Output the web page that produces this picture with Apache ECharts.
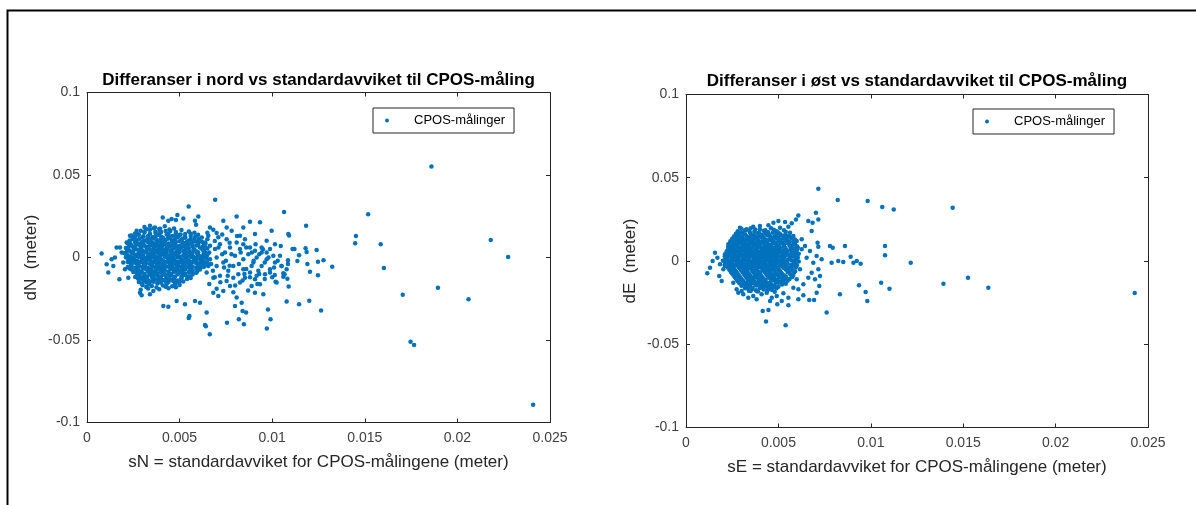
<!DOCTYPE html>
<html>
<head>
<meta charset="utf-8">
<title>CPOS-målinger</title>
<script src="https://cdn.jsdelivr.net/npm/echarts@6/dist/echarts.min.js"></script>
<style>
  html, body { margin: 0; padding: 0; background: #fff; }
  #chart { width: 1196px; height: 505px; }
</style>
</head>
<body>
<div id="chart"></div>
<script>
// Akser og tekster
const xTicks = [0, 0.005, 0.01, 0.015, 0.02, 0.025];
const yTicks = [-0.1, -0.05, 0, 0.05, 0.1];
const titles = [
  'Differanser i nord vs standardavviket til CPOS-måling',
  'Differanser i øst vs standardavviket til CPOS-måling'
];
const xNames = [
  'sN = standardavviket for CPOS-målingene (meter)',
  'sE = standardavviket for CPOS-målingene (meter)'
];
const yNames = ['dN  (meter)', 'dE  (meter)'];
const seriesName = 'CPOS-målinger';

// Nord: [sN, dN] i meter — spredte punkter
const nordOuter = [
  [.0186,.0552],[.01518,.0262],[.01452,.0131],[.01448,.0086],[.01586,.008],[.0218,.0106],
  [.02274,.0003],[.02409,-.0893],[.01603,-.0063],[.01705,-.0226],[.01747,-.0510],[.01766,-.0530],
  [.01895,-.0184],[.0206,-.0253],[.01324,-.0056],[.01064,.0276],[.01183,.0193],[.01091,.0133],
  [.01046,.007],[.0111,.0052],[.0112,.0052],[.0118,.0056],[.01186,.0033],[.0124,.0046],
  [.01145,.0013],[.01136,-.0021],[.01085,-.0017],[.01085,-.004],[.0119,-.004],[.01247,-.0026],
  [.01277,-.0017],[.0105,-.0052],[.0106,-.0096],[.01067,-.0102],[.01204,-.0086],[.01247,-.0108],
  [.01082,-.0129],[.01089,-.0175],[.01078,-.0266],[.01145,-.0283],[.012,-.0262],[.01264,-.0321],
  [.00549,-.0366],[.00642,-.0416],[.00756,-.0396],[.0082,-.0374],[.00847,-.0404],[.00859,-.0333],
  [.00971,-.0431],[.00977,-.0315],[.00991,-.0374],[.01014,-.0106],[.01018,-.0147],[.0106,-.0117],
  [.00663,-.0465],[.00692,.035],[.00549,.0309],
  [.00409,.0243],[.00439,.0223],[.00457,.0233],[.0048,.0227],[.00488,.0257],[.0052,.0237],
  [.00583,.0223],[.00601,.0249],[.00589,.0199],[.00736,.0223],[.00754,.0182],[.00808,.0249],
  [.00844,.0182],[.0088,.0217],[.00934,.0213],[.00907,.0142],[.00997,.0162],[.01087,.0142],
  [.0034,.0192],[.00367,.0182],[.00319,.0172],[.00394,.0162],[.00268,.0162],[.00664,.0182],
  [.00682,.0168],[.007,.0148],[.00781,.0162],[.00826,.0132],[.00853,.0111],[.0097,.0101],
  [.01015,.0081],[.00988,.0051],[.00943,.0061],[.01042,.001],[.01015,-.003],[.01051,-.0051],
  [.01078,-.0071],
  [.00079,.0024],[.00106,-.0041],[.00115,-.0091],[.00142,-.0051],[.0016,.0061],[.00151,0],
  [.00175,-.0132],[.00187,.003],[.00196,-.003],[.00214,.0091],[.00205,-.0071],[.00223,-.0122],
  [.00232,.0132],[.00241,-.001],[.00178,.0061],[.00133,-.001],
  [.00286,-.0213],[.00295,-.0229],[.0034,-.0223],[.00358,-.0203],[.00412,-.0294],[.00439,-.0298],
  [.00484,-.0263],[.00529,-.0284],[.00553,-.0355],[.00583,-.0263],[.0061,-.0274],[.00646,-.0334],
  [.00637,-.0409],[.00682,-.0213],[.00709,-.0233],[.00772,-.0172],[.00808,-.0243],[.00835,-.0274],
  [.0084,-.0324],[.00889,-.0172],[.00907,-.0213],[.00952,-.0223],[.00799,-.0294],[.00736,-.0203],
  [.01024,-.0152],[.00988,-.0091],[.00916,-.0111],[.00934,-.0162]
];

// Nord: midtre felt mellom kjernen og de spredte punktene
const nordMiddle = [
  [.00637,.0091],[.00664,.0071],[.00691,.0051],[.00718,.0081],[.00745,.003],[.00772,.0061],
  [.00799,.001],[.00826,.0051],[.00844,-.001],[.00871,.002],[.00898,-.003],[.00916,0],
  [.00943,-.0051],[.0097,-.001],[.00988,-.0071],[.00664,-.001],[.007,-.0051],[.00736,-.003],
  [.00763,-.0081],[.0079,-.0051],[.00817,-.0101],[.00844,-.0071],[.0088,-.0091],[.00907,-.0132],
  [.00646,-.0091],[.00682,-.0122],[.00718,-.0111],[.00754,-.0142],[.0079,-.0122],[.00826,-.0152],
  [.00853,-.0122],[.00889,-.0051],[.00925,-.0081],[.00961,-.0101],[.00808,.0091],[.00844,.0081],
  [.0088,.0061],[.00907,.0041],[.00754,.0111],[.00709,.0122],[.00655,.0132],[.00628,.001],
  [.00619,-.0051],[.00655,-.0051],[.00943,.003],[.0097,.003],[.01006,.001],
  [.0065,.015],[.0069,.01],[.0073,.014],[.0077,.009],[.0081,.013],[.0086,.006],[.0091,.008],
  [.0095,.005],[.0066,.003],[.007,0],[.0074,-.006],[.0078,.002],[.0082,-.004],[.0086,-.007],
  [.009,-.002],[.0093,-.01],[.0096,-.003],[.0101,-.006],[.0068,-.008],[.0072,-.015],[.0076,-.011],
  [.008,-.017],[.0084,-.014],[.0088,-.012],[.0092,-.016],[.0096,-.013],[.0066,-.016],[.007,-.019],
  [.0079,-.021],[.0087,-.02],[.0064,.006],[.0067,-.004],[.0071,.006],[.0075,-.002],[.0083,.003],
  [.0089,.003],[.0093,.002],[.0098,0],[.0103,-.002],[.01,-.012],[.0065,.011],[.0069,-.012],
  [.0073,.002],[.0077,-.005],[.0085,-.01]
];

// Nord: tett kjerne
const nordCore = [
  [.0031,.0185],[.0036,.0178],[.0042,.019],[.0047,.0176],[.0039,.0172],
  [.0029,.0162],[.0034,.0168],[.0045,.016],[.0051,.0166],[.0055,.0158],
  [.0026,.0145],[.0031,.0152],[.0037,.0148],[.004,.0155],[.0048,.0147],[.0053,.0142],[.0058,.015],
  [.0024,.0133],[.0028,.0138],[.0033,.013],[.0039,.0136],[.0043,.014],[.0046,.0131],[.005,.0137],[.0056,.013],[.006,.0138],
  [.0025,.0118],[.003,.0122],[.0035,.0116],[.0037,.0125],[.0041,.012],[.0045,.0115],[.0049,.0123],[.0053,.0119],[.0058,.0114],[.0062,.0121],
  [.0023,.0103],[.0027,.0108],[.0031,.0102],[.0034,.0109],[.0038,.0104],[.0042,.0106],[.0046,.0101],[.0051,.0107],[.0055,.0103],[.006,.0099],
  [.0022,.0088],[.0026,.0092],[.0029,.0086],[.0033,.0093],[.0036,.0087],[.004,.0091],[.0044,.0085],[.0048,.0094],[.0052,.0089],[.0057,.0092],[.0063,.0086],
  [.0024,.0073],[.0028,.0078],[.0031,.0072],[.0035,.0076],[.0039,.0071],[.0042,.0079],[.0046,.0074],[.005,.007],[.0054,.0077],[.0059,.0072],
  [.0021,.0058],[.0025,.0062],[.0029,.0057],[.0032,.0063],[.0036,.006],[.0039,.0056],[.0043,.0061],[.0047,.0058],[.0051,.0064],[.0055,.0057],[.0061,.006],[.0065,.0055],
  [.0023,.0043],[.0027,.0048],[.003,.0042],[.0034,.0047],[.0038,.0044],[.0041,.0049],[.0045,.0041],[.0049,.0046],[.0053,.0043],[.0058,.0048],[.0063,.0042],
  [.002,.0028],[.0024,.0032],[.0028,.0027],[.0031,.0033],[.0035,.0029],[.0037,.0034],[.004,.0028],[.0043,.0031],[.0047,.0026],[.005,.0033],[.0054,.003],[.0057,.0027],[.006,.0032],[.0064,.0029],
  [.0022,.0013],[.0026,.0017],[.0029,.0012],[.0033,.0018],[.0036,.0014],[.004,.0016],[.0044,.0011],[.0048,.0017],[.0052,.0014],[.0056,.0018],[.006,.0012],[.0065,.0016],
  [.0021,.0002],[.0025,-.0003],[.0028,.0004],[.0032,-.0002],[.0035,.0003],[.0038,-.0001],[.0042,.0005],[.0045,-.0004],[.0049,.0001],[.0053,-.0002],[.0056,.0004],[.0059,-.0003],[.0063,.0002],
  [.0023,-.0013],[.0027,-.0018],[.003,-.0012],[.0034,-.0017],[.0037,-.0014],[.0041,-.0019],[.0044,-.0012],[.0047,-.0016],[.0051,-.0011],[.0055,-.0018],[.0058,-.0013],[.0062,-.0017],
  [.0022,-.0028],[.0026,-.0032],[.0029,-.0027],[.0032,-.0033],[.0036,-.0029],[.0039,-.0031],[.0043,-.0026],[.0046,-.0034],[.005,-.0029],[.0053,-.0031],[.0057,-.0027],[.0061,-.0033],[.0065,-.003],
  [.0024,-.0043],[.0028,-.0048],[.0031,-.0044],[.0035,-.0047],[.0038,-.0042],[.0042,-.0049],[.0045,-.0044],[.0049,-.0046],[.0052,-.0041],[.0056,-.0048],[.006,-.0043],[.0064,-.0047],
  [.0022,-.0058],[.0026,-.0062],[.003,-.0057],[.0033,-.0063],[.0037,-.0059],[.004,-.0061],[.0044,-.0056],[.0048,-.0063],[.0051,-.0058],[.0055,-.006],[.0059,-.0064],[.0063,-.0057],
  [.0024,-.0073],[.0028,-.0077],[.0032,-.0072],[.0035,-.0078],[.0039,-.0074],[.0042,-.0076],[.0046,-.0071],[.005,-.0079],[.0053,-.0073],[.0057,-.0077],[.0061,-.0072],
  [.0025,-.0088],[.0029,-.0093],[.0033,-.0087],[.0036,-.0092],[.004,-.0089],[.0044,-.0094],[.0047,-.0086],[.0051,-.0091],[.0055,-.0088],[.0059,-.0093],
  [.0027,-.0103],[.0031,-.0108],[.0034,-.0102],[.0038,-.0107],[.0042,-.0104],[.0045,-.0109],[.0049,-.0101],[.0053,-.0106],[.0057,-.0103],
  [.0026,-.0118],[.003,-.0122],[.0035,-.0117],[.0039,-.0123],[.0043,-.0119],[.0047,-.0121],[.0051,-.0116],[.0056,-.0124],
  [.0029,-.0133],[.0033,-.0138],[.0037,-.0132],[.0041,-.0137],[.0045,-.0134],[.0049,-.0139],[.0054,-.0131],
  [.0028,-.0148],[.0032,-.0152],[.0036,-.0147],[.004,-.0153],[.0044,-.0149],[.0048,-.0155],[.0052,-.0146],
  [.003,-.0168],[.0035,-.0173],[.0041,-.0169],[.0046,-.0174],[.005,-.0166],
  [.0033,-.0188],[.0039,-.0193],[.0044,-.0187],[.0029,-.0195],
  [.00335,.017],[.00395,.0174],[.00445,.0169],
  [.0031,.0158],[.0037,.0156],[.00425,.016],[.0048,.0155],
  [.00275,.0141],[.0034,.0144],[.00385,.0139],[.0044,.0143],[.00505,.014],[.0056,.0144],
  [.0026,.0126],[.00305,.0129],[.00355,.0124],[.004,.0128],[.0044,.0125],[.0048,.0129],[.0053,.0126],[.00585,.0127],
  [.00245,.011],[.00285,.0114],[.00325,.0111],[.00365,.0113],[.004,.011],[.00435,.0114],[.00475,.0111],[.00515,.0113],[.0056,.011],[.00605,.0113],
  [.0023,.0096],[.00265,.0099],[.003,.0095],[.00345,.0098],[.0038,.0096],[.0042,.0099],[.0046,.0095],[.005,.0098],[.0054,.0096],[.00585,.0099],[.0062,.0095],
  [.00235,.0081],[.00275,.0084],[.00305,.008],[.0034,.0083],[.00375,.0081],[.0041,.0084],[.0044,.008],[.00475,.0083],[.00515,.0081],[.00555,.0084],[.006,.008],[.0064,.0083],
  [.00225,.0066],[.0026,.0069],[.00295,.0065],[.00335,.0068],[.0037,.0066],[.00405,.0069],[.00445,.0065],[.00485,.0068],[.00525,.0066],[.0057,.0069],[.00625,.0065],
  [.0022,.0051],[.00255,.0054],[.0029,.005],[.00325,.0053],[.0036,.0051],[.00395,.0054],[.0043,.005],[.00465,.0053],[.005,.0051],[.00535,.0054],[.00575,.005],[.0062,.0053],
  [.00215,.0036],[.0025,.0039],[.0029,.0035],[.0032,.0038],[.00355,.0036],[.0039,.0039],[.0042,.0035],[.00455,.0038],[.00485,.0036],[.0052,.0039],[.00555,.0035],[.0059,.0038],[.0063,.0036],
  [.0021,.0021],[.00245,.0024],[.00275,.002],[.00305,.0023],[.0034,.0021],[.00385,.0024],[.00415,.002],[.00455,.0023],[.0049,.0021],[.0053,.0024],[.00565,.002],[.00595,.0023],[.0063,.0021],
  [.00235,.0006],[.0027,.0009],[.00305,.0005],[.0034,.0008],[.0037,.0006],[.00395,.0009],[.0043,.0005],[.00465,.0008],[.005,.0006],[.0054,.0009],[.00575,.0005],[.0061,.0008],[.00645,.0006],
  [.0022,-.0007],[.00255,-.001],[.00295,-.0006],[.0033,-.0009],[.00365,-.0007],[.004,-.001],[.00435,-.0006],[.0047,-.0009],[.00505,-.0007],[.0054,-.001],[.00575,-.0006],[.0061,-.0009],[.00645,-.0007],
  [.00245,-.0022],[.0028,-.0025],[.00315,-.0021],[.0035,-.0024],[.0038,-.0022],[.00415,-.0025],[.0045,-.0021],[.00485,-.0024],[.0052,-.0022],[.0055,-.0025],[.0059,-.0021],[.0063,-.0024],
  [.00235,-.0037],[.0027,-.004],[.00305,-.0036],[.0034,-.0039],[.00375,-.0037],[.0041,-.004],[.00445,-.0036],[.0048,-.0039],[.00515,-.0037],[.0055,-.004],[.0059,-.0036],[.0063,-.0039],
  [.0024,-.0052],[.0028,-.0055],[.00315,-.0051],[.00355,-.0054],[.0039,-.0052],[.00425,-.0055],[.0046,-.0051],[.00495,-.0054],[.0053,-.0052],[.0057,-.0055],[.0061,-.0051],
  [.0023,-.0067],[.00265,-.007],[.00305,-.0066],[.0034,-.0069],[.00375,-.0067],[.0041,-.007],[.0045,-.0066],[.00485,-.0069],[.0052,-.0067],[.0056,-.007],[.006,-.0066],
  [.0026,-.0082],[.00295,-.0085],[.00335,-.0081],[.0037,-.0084],[.00405,-.0082],[.0044,-.0085],[.0048,-.0081],[.00515,-.0084],[.00555,-.0082],[.00595,-.0085],
  [.0027,-.0097],[.0031,-.01],[.00345,-.0096],[.0038,-.0099],[.00415,-.0097],[.00455,-.01],[.0049,-.0096],[.0053,-.0099],[.0057,-.0097],
  [.00285,-.0112],[.00325,-.0115],[.0036,-.0111],[.004,-.0114],[.0044,-.0112],[.00475,-.0115],[.00515,-.0111],[.0055,-.0114],
  [.00275,-.0127],[.00315,-.013],[.00355,-.0126],[.00395,-.0129],[.0043,-.0127],[.0047,-.013],[.0051,-.0126],
  [.00305,-.0142],[.00345,-.0145],[.00385,-.0141],[.00425,-.0144],[.00465,-.0142],[.005,-.0145],
  [.00295,-.0159],[.00335,-.0162],[.0038,-.0158],[.0043,-.0161],[.00475,-.016],
  [.0032,-.0179],[.00375,-.0182],[.00425,-.0178],[.0048,-.0181]
];

// Øst: [sE, dE] i meter — spredte punkter
const ostOuter = [
  [.00716,.0434],[.00821,.0366],[.00983,.036],[.01062,.0324],[.01124,.031],[.01443,.032],
  [.00703,.029],[.00662,.024],[.00685,.023],[.00716,.025],[.00608,.0274],[.00595,.025],
  [.00572,.0226],[.0068,.018],[.00712,.011],[.00716,.0086],[.00779,.009],[.00794,.008],
  [.0086,.009],[.01077,.009],[.01077,.0034],[.00788,-.001],[.00824,0],[.00851,-.0006],
  [.00891,.0026],[.00906,-.001],[.00924,0],[.00945,-.0016],
  [.00833,-.02],[.00936,-.0146],[.00972,-.0186],[.00981,-.024],[.00761,-.031],[.00539,-.0386],
  [.00433,-.0364],[.00415,-.03],[.00446,-.0294],[.00494,-.026],[.00554,-.0266],[.00455,-.024],
  [.00608,-.023],[.00635,-.0206],[.00667,-.0234],[.00693,-.0234],[.00721,-.015],[.00707,-.019],
  [.00635,-.014],[.01056,-.013],[.01101,-.0166],[.01216,-.001],[.01393,-.0136],[.01526,-.01],
  [.01636,-.016],[.02428,-.0192],
  [.00115,-.0074],[.0013,-.004],[.00144,0],[.00157,.005],[.0017,.002],[.00184,-.002],
  [.0018,-.009],[.00202,-.005],[.00211,.004],[.00229,.007],[.0022,.001],[.00247,-.007],
  [.00193,-.012],[.00256,-.013],[.00274,-.017],[.00283,-.019],[.0031,-.02],[.00337,-.022],
  [.00364,-.021],[.00382,-.023],[.0035,-.018],
  [.00292,.02],[.00328,.019],[.00364,.0206],[.004,.021],[.00446,.0214],[.00473,.023],
  [.005,.024],[.00536,.0234],[.00554,.0206],[.00509,.02],[.00274,.015],[.00247,.012],[.00229,.01],
  [.00626,.013],[.00644,.009],[.00671,.006],[.00653,.002],[.00689,-.001],[.00707,.003],
  [.00734,.001],[.00716,-.005],[.0068,-.007],[.00698,-.011],[.00662,-.01],[.00725,-.009],
  [.00617,-.005],[.00599,-.011],[.00581,-.016],[.00608,-.017],[.00626,.007],[.00599,.012],
  [.00581,.015],[.00563,.017],[.00545,.015],
  [.00301,-.018],[.00328,-.015],[.00382,-.018],[.00409,-.02],[.00437,-.019],[.00464,-.022],
  [.00491,-.021],[.00527,-.0194],[.00554,-.022],[.00518,-.024]
];

// Øst: tett kjerne
const ostCore = [
  [.003,.0193],[.0035,.0197],[.004,.019],[.0046,.0196],
  [.0028,.0178],[.0032,.0183],[.0037,.0177],[.0042,.0182],[.0049,.0179],[.0053,.0184],
  [.0027,.0163],[.0031,.0168],[.0035,.0162],[.0039,.0167],[.0043,.0164],[.0047,.0169],[.0051,.0161],
  [.0026,.0148],[.0029,.0153],[.0033,.0147],[.0036,.0152],[.004,.0149],[.0044,.0154],[.0048,.0146],[.0052,.0151],[.0056,.0148],
  [.0025,.0133],[.0028,.0138],[.0031,.0132],[.0034,.0137],[.0037,.0134],[.0041,.0139],[.0045,.0131],[.0049,.0136],[.0053,.0133],[.0057,.0138],
  [.0024,.0118],[.0027,.0122],[.003,.0117],[.0033,.0123],[.0036,.0119],[.0039,.0121],[.0042,.0116],[.0046,.0124],[.005,.0118],[.0054,.0122],[.0058,.0117],
  [.0026,.0103],[.0029,.0108],[.0032,.0102],[.0035,.0107],[.0038,.0104],[.0041,.0109],[.0044,.0101],[.0047,.0106],[.0051,.0103],[.0055,.0108],[.0059,.0102],
  [.0023,.0088],[.0025,.0093],[.0028,.0087],[.0031,.0092],[.0034,.0089],[.0037,.0094],[.004,.0086],[.0043,.0091],[.0046,.0088],[.0049,.0093],[.0053,.0087],[.0056,.0092],[.006,.0089],
  [.0024,.0073],[.0027,.0078],[.003,.0072],[.0033,.0077],[.0036,.0074],[.0039,.0079],[.0042,.0071],[.0045,.0076],[.0048,.0073],[.0051,.0078],[.0054,.0072],[.0058,.0077],
  [.0022,.0058],[.0025,.0062],[.0028,.0057],[.0031,.0063],[.0034,.0059],[.0037,.0061],[.004,.0056],[.0043,.0062],[.0046,.0058],[.0049,.0064],[.0052,.0057],[.0055,.0061],[.0059,.0059],
  [.0023,.0043],[.0026,.0047],[.0029,.0042],[.0032,.0048],[.0035,.0044],[.0038,.0046],[.0041,.0041],[.0044,.0047],[.0047,.0043],[.005,.0049],[.0053,.0042],[.0057,.0046],[.0061,.0044],
  [.0021,.0028],[.0024,.0032],[.0027,.0027],[.003,.0033],[.0033,.0029],[.0036,.0031],[.0039,.0026],[.0042,.0034],[.0045,.0028],[.0048,.0031],[.0051,.0027],[.0054,.0033],[.0058,.0029],
  [.0022,.0013],[.0025,.0017],[.0028,.0012],[.0031,.0018],[.0034,.0014],[.0037,.0016],[.004,.0011],[.0043,.0017],[.0046,.0013],[.0049,.0018],[.0052,.0012],[.0056,.0016],[.006,.0014],
  [.002,.0002],[.0023,-.0003],[.0026,.0004],[.0029,-.0002],[.0032,.0003],[.0035,-.0004],[.0038,.0001],[.0041,-.0003],[.0044,.0005],[.0047,-.0001],[.005,.0003],[.0053,-.0002],[.0057,.0004],[.0061,-.0003],
  [.0022,-.0013],[.0025,-.0018],[.0028,-.0012],[.0031,-.0017],[.0034,-.0014],[.0037,-.0016],[.004,-.0011],[.0043,-.0018],[.0046,-.0013],[.0049,-.0017],[.0052,-.0012],[.0055,-.0016],[.0059,-.0014],
  [.0021,-.0028],[.0024,-.0032],[.0027,-.0027],[.003,-.0033],[.0033,-.0029],[.0036,-.0031],[.0039,-.0026],[.0042,-.0034],[.0045,-.0028],[.0048,-.0032],[.0051,-.0027],[.0054,-.0033],[.0058,-.0029],
  [.0023,-.0043],[.0026,-.0048],[.0029,-.0042],[.0032,-.0047],[.0035,-.0044],[.0038,-.0046],[.0041,-.0041],[.0044,-.0048],[.0047,-.0043],[.005,-.0047],[.0053,-.0042],[.0057,-.0046],
  [.0024,-.0058],[.0027,-.0062],[.003,-.0057],[.0033,-.0063],[.0036,-.0059],[.0039,-.0061],[.0042,-.0056],[.0045,-.0062],[.0048,-.0058],[.0051,-.0063],[.0055,-.0057],[.0059,-.0061],
  [.0025,-.0073],[.0028,-.0078],[.0031,-.0072],[.0034,-.0077],[.0037,-.0074],[.004,-.0079],[.0043,-.0071],[.0046,-.0076],[.0049,-.0073],[.0052,-.0078],[.0056,-.0072],
  [.0026,-.0088],[.0029,-.0093],[.0032,-.0087],[.0035,-.0092],[.0038,-.0089],[.0041,-.0094],[.0044,-.0086],[.0047,-.0091],[.005,-.0088],[.0054,-.0093],[.0058,-.0087],
  [.0027,-.0103],[.003,-.0108],[.0033,-.0102],[.0036,-.0107],[.0039,-.0104],[.0042,-.0109],[.0045,-.0101],[.0048,-.0106],[.0052,-.0103],[.0056,-.0108],
  [.0028,-.0118],[.0031,-.0122],[.0034,-.0117],[.0037,-.0123],[.004,-.0119],[.0043,-.0121],[.0047,-.0116],[.0051,-.0124],[.0055,-.0118],
  [.0029,-.0133],[.0033,-.0138],[.0036,-.0132],[.0039,-.0137],[.0043,-.0134],[.0046,-.0139],[.005,-.0131],[.0054,-.0136],
  [.003,-.0148],[.0034,-.0153],[.0038,-.0147],[.0042,-.0152],[.0046,-.0149],[.005,-.0154],
  [.0032,-.0163],[.0036,-.0168],[.004,-.0162],[.0045,-.0167],[.0049,-.0164],
  [.0034,-.0178],[.0039,-.0183],[.0044,-.0179],[.0048,-.0184],
  [.0038,.0008],[.0041,.0022],[.0044,-.0022],[.0039,-.0038],[.0042,.0052],[.0045,.0038],
  [.0036,.0068],[.004,-.0068],[.0046,-.0052],[.0035,-.0022],[.0043,.0083],[.0039,.0098],
  [.0047,.0022],[.0033,-.0052],[.0048,-.0082],[.0041,.0112],[.0037,-.0098],[.0043,-.0112],
  [.0034,.0038],[.0049,.0052],
  [.00325,.0186],[.00375,.0189],[.0043,.0185],[.00475,.0188],
  [.00295,.0171],[.00345,.0174],[.00395,.017],[.00445,.0173],[.005,.0171],[.0054,.0174],
  [.0028,.0156],[.0032,.0159],[.0037,.0155],[.0041,.0158],[.0045,.0156],[.0049,.0159],[.00535,.0155],
  [.0027,.0141],[.00305,.0144],[.00345,.014],[.00385,.0143],[.0042,.0141],[.0046,.0144],[.005,.014],[.00545,.0143],
  [.0026,.0126],[.00295,.0129],[.00325,.0125],[.00355,.0128],[.0039,.0126],[.0043,.0129],[.0047,.0125],[.0051,.0128],[.0055,.0126],[.0059,.0129],
  [.0025,.0111],[.00285,.0114],[.00315,.011],[.00345,.0113],[.00375,.0111],[.00405,.0114],[.0044,.011],[.0048,.0113],[.0052,.0111],[.0056,.0114],
  [.0024,.0096],[.0027,.0099],[.00305,.0095],[.00335,.0098],[.00365,.0096],[.00395,.0099],[.00425,.0095],[.00455,.0098],[.0049,.0096],[.0053,.0099],[.00575,.0095],
  [.0023,.0081],[.0026,.0084],[.0029,.008],[.0032,.0083],[.0035,.0081],[.0038,.0084],[.0041,.008],[.0044,.0083],[.0047,.0081],[.005,.0084],[.00535,.008],[.0057,.0083],[.00605,.0081],
  [.0023,.0066],[.0026,.0069],[.0029,.0065],[.0032,.0068],[.0035,.0066],[.0038,.0069],[.0041,.0065],[.0044,.0068],[.0047,.0066],[.005,.0069],[.0053,.0065],[.00565,.0068],[.006,.0066],
  [.00235,.0051],[.00265,.0054],[.00295,.005],[.00325,.0053],[.00355,.0051],[.00385,.0054],[.00415,.005],[.00445,.0053],[.00475,.0051],[.00505,.0054],[.0054,.005],[.0058,.0053],
  [.0022,.0036],[.0025,.0039],[.0028,.0035],[.0031,.0038],[.0034,.0036],[.0037,.0039],[.004,.0035],[.0043,.0038],[.0046,.0036],[.0049,.0039],[.0052,.0035],[.00555,.0038],[.00595,.0036],
  [.00225,.0021],[.00255,.0024],[.00285,.002],[.00315,.0023],[.00345,.0021],[.00375,.0024],[.00405,.002],[.00435,.0023],[.00465,.0021],[.00495,.0024],[.0053,.002],[.00565,.0023],[.00605,.0021],
  [.0021,.0006],[.00245,.0009],[.00275,.0005],[.00305,.0008],[.00335,.0006],[.00365,.0009],[.00395,.0005],[.00425,.0008],[.00455,.0006],[.00485,.0009],[.00515,.0005],[.0055,.0008],[.0059,.0006],
  [.00215,-.0007],[.00245,-.001],[.00275,-.0006],[.00305,-.0009],[.00335,-.0007],[.00365,-.001],[.00395,-.0006],[.00425,-.0009],[.00455,-.0007],[.00485,-.001],[.00515,-.0006],[.00545,-.0009],[.00585,-.0007],
  [.0021,-.0022],[.00235,-.0025],[.00265,-.0021],[.00295,-.0024],[.00325,-.0022],[.00355,-.0025],[.00385,-.0021],[.00415,-.0024],[.00445,-.0022],[.00475,-.0025],[.00505,-.0021],[.00535,-.0024],[.0057,-.0022],[.006,-.0025],
  [.00225,-.0037],[.00255,-.004],[.00285,-.0036],[.00315,-.0039],[.00345,-.0037],[.00375,-.004],[.00405,-.0036],[.00435,-.0039],[.00465,-.0037],[.00495,-.004],[.00525,-.0036],[.0056,-.0039],[.00595,-.0037],
  [.00235,-.0052],[.00265,-.0055],[.00295,-.0051],[.00325,-.0054],[.00355,-.0052],[.00385,-.0055],[.00415,-.0051],[.00445,-.0054],[.00475,-.0052],[.00505,-.0055],[.0054,-.0051],[.00575,-.0054],
  [.00245,-.0067],[.00275,-.007],[.00305,-.0066],[.00335,-.0069],[.00365,-.0067],[.00395,-.007],[.00425,-.0066],[.00455,-.0069],[.00485,-.0067],[.00515,-.007],[.0055,-.0066],[.00585,-.0069],
  [.00255,-.0082],[.00285,-.0085],[.00315,-.0081],[.00345,-.0084],[.00375,-.0082],[.00405,-.0085],[.00435,-.0081],[.00465,-.0084],[.00495,-.0082],[.0053,-.0085],[.00565,-.0081],
  [.00265,-.0097],[.00295,-.01],[.00325,-.0096],[.00355,-.0099],[.00385,-.0097],[.00415,-.01],[.00445,-.0096],[.00475,-.0099],[.00505,-.0097],[.0054,-.01],[.00575,-.0096],
  [.00275,-.0112],[.00305,-.0115],[.00335,-.0111],[.00365,-.0114],[.00395,-.0112],[.00425,-.0115],[.0046,-.0111],[.00495,-.0114],[.0053,-.0112],
  [.00285,-.0127],[.0032,-.013],[.0035,-.0126],[.0038,-.0129],[.00415,-.0127],[.0045,-.013],[.00485,-.0126],[.00525,-.0129],
  [.0031,-.0142],[.00345,-.0145],[.00375,-.0141],[.00405,-.0144],[.0044,-.0142],[.0048,-.0145],[.0052,-.0141],
  [.0032,-.0157],[.0036,-.016],[.004,-.0156],[.0044,-.0159],[.00475,-.0157],
  [.0034,-.0172],[.0038,-.0175],[.0042,-.0171],[.00465,-.0174]
];

const nordPoints = [].concat(nordOuter, nordMiddle, nordCore);
const ostPoints = [].concat(ostOuter, ostCore);

const FONT = '"Liberation Sans", Arial, Helvetica, sans-serif';
const AXIS_COLOR = '#262626';
const TICK_TEXT = '#404040';

// MATLAB-lignende akser: boks rundt, tikker innover på alle fire sider
function xAxes(gridIndex, name) {
  const base = {
    gridIndex, type: 'value',
    min: xTicks[0], max: xTicks[xTicks.length - 1],
    interval: xTicks[1] - xTicks[0],
    splitLine: { show: false },
    axisLine: { show: true, onZero: false, lineStyle: { color: AXIS_COLOR, width: 1 } },
    axisTick: { show: true, inside: true, length: 4, lineStyle: { color: AXIS_COLOR } }
  };
  return [
    Object.assign({}, base, {
      position: 'bottom',
      name, nameLocation: 'middle', nameGap: 31,
      nameTextStyle: { fontFamily: FONT, fontSize: 17, color: AXIS_COLOR },
      axisLabel: {
        show: true, margin: 9, fontFamily: FONT, fontSize: 14, color: TICK_TEXT,
        formatter: v => String(+v.toFixed(4))
      }
    }),
    Object.assign({}, base, { position: 'top', axisLabel: { show: false } })
  ];
}

function yAxes(gridIndex, name) {
  const base = {
    gridIndex, type: 'value',
    min: yTicks[0], max: yTicks[yTicks.length - 1],
    interval: yTicks[1] - yTicks[0],
    splitLine: { show: false },
    axisLine: { show: true, onZero: false, lineStyle: { color: AXIS_COLOR, width: 1 } },
    axisTick: { show: true, inside: true, length: 4, lineStyle: { color: AXIS_COLOR } }
  };
  return [
    Object.assign({}, base, {
      position: 'left',
      name, nameLocation: 'middle', nameGap: 47,
      nameTextStyle: { fontFamily: FONT, fontSize: 17, color: AXIS_COLOR },
      axisLabel: {
        show: true, margin: 7, fontFamily: FONT, fontSize: 14, color: TICK_TEXT,
        formatter: v => String(+v.toFixed(4))
      }
    }),
    Object.assign({}, base, { position: 'right', axisLabel: { show: false } })
  ];
}

function legendAt(left, top) {
  return {
    data: [seriesName],
    left, top,
    orient: 'vertical',
    backgroundColor: '#fff',
    borderColor: AXIS_COLOR,
    borderWidth: 1,
    borderRadius: 0,
    padding: [5, 9, 5, 12],
    itemWidth: 44,
    itemHeight: 4,
    icon: 'circle',
    selectedMode: false,
    textStyle: { fontFamily: FONT, fontSize: 13, color: '#000', lineHeight: 15 }
  };
}

function scatterSeries(data, xIndex, yIndex) {
  return {
    name: seriesName,
    type: 'scatter',
    xAxisIndex: xIndex,
    yAxisIndex: yIndex,
    data,
    symbol: 'circle',
    symbolSize: 4.5,
    itemStyle: { color: '#0072BD', opacity: 1 },
    silent: true,
    emphasis: { disabled: true }
  };
}

const chart = echarts.init(document.getElementById('chart'), null, { renderer: 'canvas' });

chart.setOption({
  animation: false,
  backgroundColor: '#fff',
  title: [
    { text: titles[0], left: 318.5, top: 72, textAlign: 'center', padding: 0,
      textStyle: { fontFamily: FONT, fontSize: 17, fontWeight: 'bold', color: '#000' } },
    { text: titles[1], left: 917, top: 73, textAlign: 'center', padding: 0,
      textStyle: { fontFamily: FONT, fontSize: 17, fontWeight: 'bold', color: '#000' } }
  ],
  legend: [legendAt(373, 108), legendAt(973, 109)],
  grid: [
    { left: 87, top: 92.5, width: 463, height: 330 },
    { left: 686, top: 94.5, width: 462, height: 333 }
  ],
  xAxis: [].concat(xAxes(0, xNames[0]), xAxes(1, xNames[1])),
  yAxis: [].concat(yAxes(0, yNames[0]), yAxes(1, yNames[1])),
  series: [
    scatterSeries(nordPoints, 0, 0),
    scatterSeries(ostPoints, 2, 2)
  ],
  graphic: [
    {
      type: 'polyline',
      silent: true,
      shape: { points: [[7.5, 505], [7.5, 10.5], [1196, 10.5]] },
      style: { stroke: '#000', lineWidth: 2, fill: null }
    }
  ]
});
</script>
</body>
</html>
